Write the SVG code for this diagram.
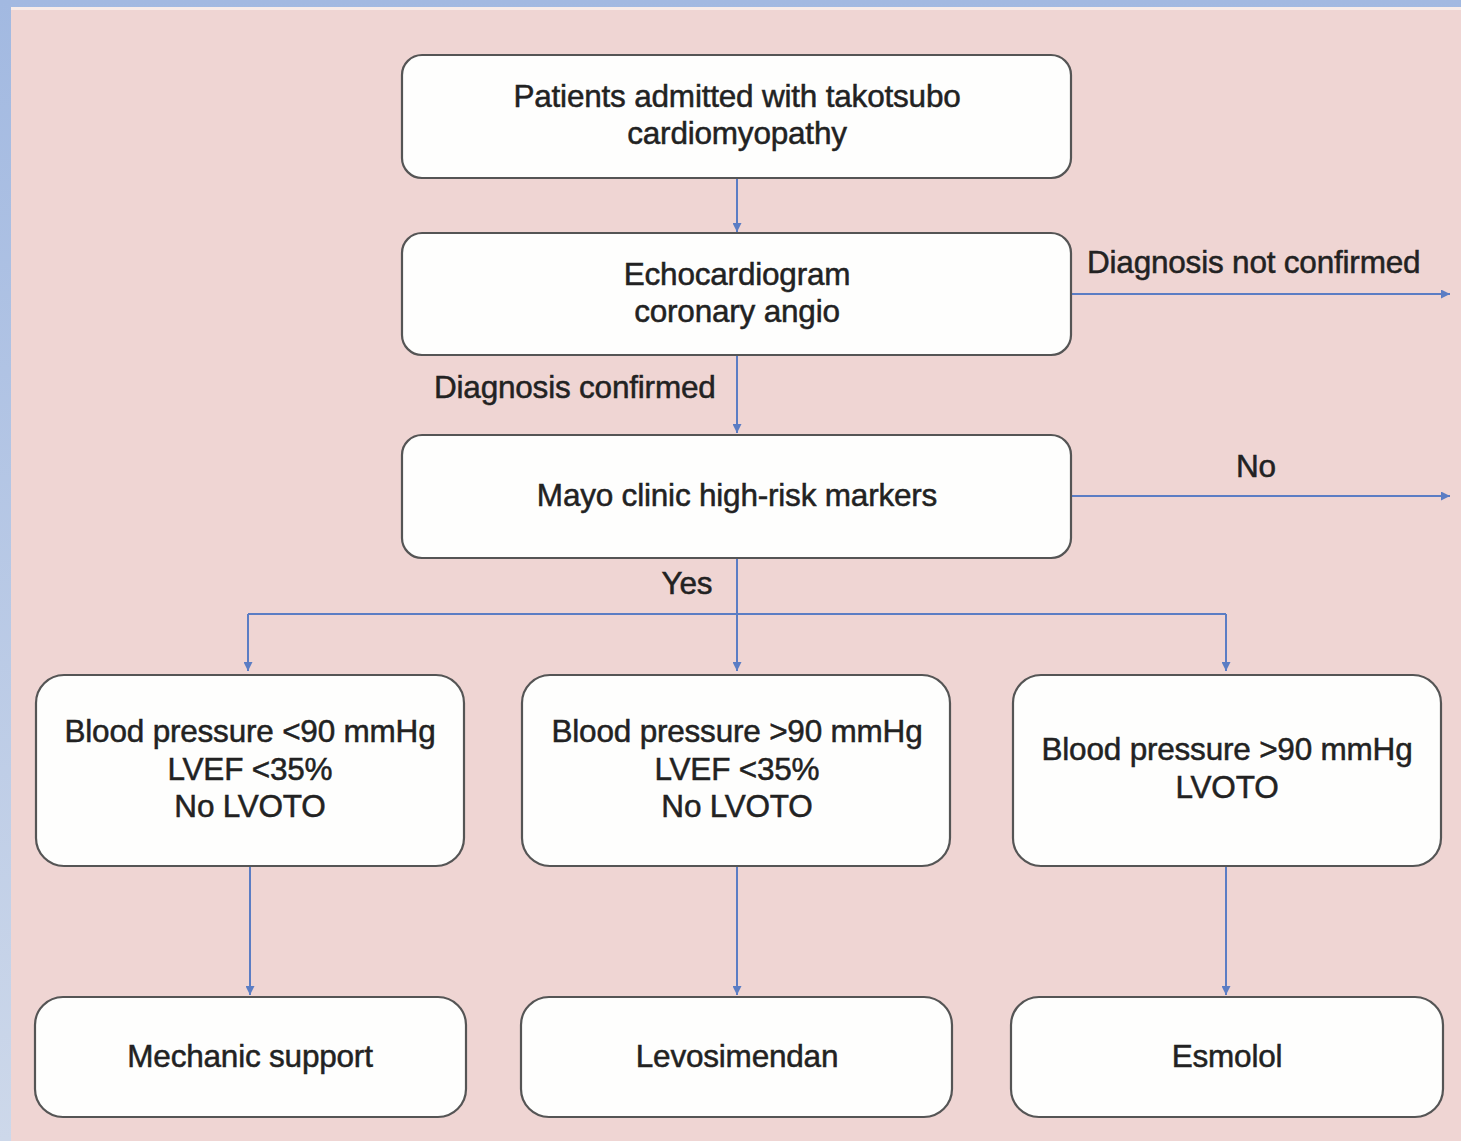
<svg xmlns="http://www.w3.org/2000/svg" width="1461" height="1141" viewBox="0 0 1461 1141">
  <defs>
    <linearGradient id="frame" x1="0" y1="0" x2="0" y2="1">
      <stop offset="0" stop-color="#a2b9e1"/>
      <stop offset="1" stop-color="#cdd8ea"/>
    </linearGradient>
    <marker id="arrow" viewBox="0 0 10 10" refX="10" refY="5" markerWidth="11" markerHeight="9" orient="auto" markerUnits="userSpaceOnUse">
      <path d="M0,0 L10,5 L0,10 z" fill="#5b7dc4"/>
    </marker>
    <style>
      .box { fill: #fefefd; stroke: #555; stroke-width: 2.2; }
      .conn { fill: none; stroke: #5b7dc4; stroke-width: 2; }
      .arr { marker-end: url(#arrow); }
      text { font-family: "Liberation Sans", Arial, sans-serif; font-size: 31.5px; fill: #222; stroke: #222; stroke-width: 0.5px; text-anchor: middle; letter-spacing: -0.2px; }
      .lbl { text-anchor: start; }
    </style>
  </defs>

  <!-- frame and panel -->
  <rect x="0" y="0" width="1461" height="1141" fill="url(#frame)"/>
  <rect x="11" y="7" width="1450" height="1134" fill="#efd5d3"/>
  <rect x="11" y="7" width="1450" height="3" fill="#f7ebe8"/>

  <!-- connectors -->
  <g id="connectors">
    <path class="conn arr" d="M737,178 V232"/>
    <path class="conn arr" d="M737,355 V433"/>
    <path class="conn" d="M737,558 V614"/>
    <path class="conn" d="M248,614 H1226"/>
    <path class="conn arr" d="M248,614 V671"/>
    <path class="conn arr" d="M737,614 V671"/>
    <path class="conn arr" d="M1226,614 V671"/>
    <path class="conn arr" d="M1071,294 H1450"/>
    <path class="conn arr" d="M1071,496 H1450"/>
    <path class="conn arr" d="M250,866 V995"/>
    <path class="conn arr" d="M737,866 V995"/>
    <path class="conn arr" d="M1226,866 V995"/>
    <text class="lbl" x="1087" y="273">Diagnosis not confirmed</text>
    <text class="lbl" x="434" y="398">Diagnosis confirmed</text>
    <text x="1256" y="477">No</text>
    <text x="687" y="594">Yes</text>
  </g>

  <g id="n-patients">
    <rect class="box" x="402" y="55" width="669" height="123" rx="20"/>
    <text x="737" y="107">Patients admitted with takotsubo</text>
    <text x="737" y="144">cardiomyopathy</text>
  </g>

  <g id="n-echo">
    <rect class="box" x="402" y="233" width="669" height="122" rx="20"/>
    <text x="737" y="285">Echocardiogram</text>
    <text x="737" y="322">coronary angio</text>
  </g>

  <g id="n-mayo">
    <rect class="box" x="402" y="435" width="669" height="123" rx="20"/>
    <text x="737" y="506">Mayo clinic high-risk markers</text>
  </g>

  <g id="n-bp-low">
    <rect class="box" x="36" y="675" width="428" height="191" rx="28"/>
    <text x="250" y="742">Blood pressure &lt;90 mmHg</text>
    <text x="250" y="780">LVEF &lt;35%</text>
    <text x="250" y="817">No LVOTO</text>
  </g>

  <g id="n-bp-high">
    <rect class="box" x="522" y="675" width="428" height="191" rx="28"/>
    <text x="737" y="742">Blood pressure &gt;90 mmHg</text>
    <text x="737" y="780">LVEF &lt;35%</text>
    <text x="737" y="817">No LVOTO</text>
  </g>

  <g id="n-bp-lvoto">
    <rect class="box" x="1013" y="675" width="428" height="191" rx="28"/>
    <text x="1227" y="760">Blood pressure &gt;90 mmHg</text>
    <text x="1227" y="798">LVOTO</text>
  </g>

  <g id="n-mechanic">
    <rect class="box" x="35" y="997" width="431" height="120" rx="28"/>
    <text x="250" y="1067">Mechanic support</text>
  </g>

  <g id="n-levosimendan">
    <rect class="box" x="521" y="997" width="431" height="120" rx="28"/>
    <text x="737" y="1067">Levosimendan</text>
  </g>

  <g id="n-esmolol">
    <rect class="box" x="1011" y="997" width="432" height="120" rx="28"/>
    <text x="1227" y="1067">Esmolol</text>
  </g>
</svg>
